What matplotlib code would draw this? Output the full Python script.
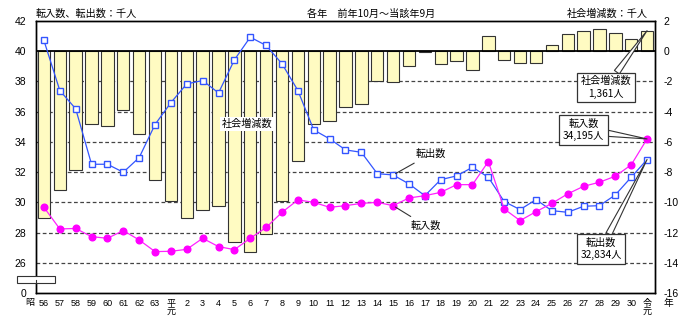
import matplotlib
matplotlib.use("Agg")
import matplotlib.pyplot as plt
from matplotlib.patches import Rectangle
from matplotlib.lines import Line2D

plt.rcParams['font.family'] = ['Liberation Sans', 'Noto Sans CJK JP', 'DejaVu Sans']

years = ["56", "57", "58", "59", "60", "61", "62", "63",
         "平\n元", "2", "3", "4", "5", "6", "7", "8", "9", "10",
         "11", "12", "13", "14", "15", "16", "17", "18", "19", "20",
         "21", "22", "23", "24", "25", "26", "27", "28", "29", "30",
         "令\n元"]

inflow = [29.67, 28.24, 28.27, 27.73, 27.62, 28.13, 27.51, 26.74,
          26.76, 26.89, 27.62, 27.07, 26.87,
          27.62, 28.34, 29.34, 30.16, 30.00,
          29.67, 29.78, 29.93, 30.00, 29.78,
          30.29, 30.44, 30.66, 31.17, 31.17,
          32.70, 29.56, 28.79, 29.38, 29.93,
          30.56, 31.06, 31.33, 31.73, 32.48,
          34.195]

outflow = [40.71, 37.40, 36.19, 32.52, 32.52, 31.99, 32.96, 35.15,
           36.60, 37.84, 38.06, 37.24, 39.43,
           40.93, 40.38, 39.17, 37.40, 34.79,
           34.20, 33.47, 33.31, 31.90, 31.81,
           31.22, 30.44, 31.50, 31.75, 32.32,
           31.66, 30.05, 29.52, 30.18, 29.45,
           29.34, 29.74, 29.78, 30.49, 31.66,
           32.834]

net = [-11.06, -9.18, -7.83, -4.81, -4.92, -3.90, -5.50, -8.50,
       -9.89, -11.06, -10.48, -10.24, -12.60,
       -13.31, -12.09, -9.93, -7.24, -4.81,
       -4.59, -3.71, -3.49, -1.95, -2.05,
       -0.95, -0.02, -0.84, -0.66, -1.21,
       1.04, -0.57, -0.77, -0.81, 0.38,
       1.15, 1.33, 1.48, 1.21, 0.82,
       1.361]

left_ticks = [24, 26, 28, 30, 32, 34, 36, 38, 40, 42]
left_labels = ["0", "26", "28", "30", "32", "34", "36", "38", "40", "42"]
right_ticks = [-16, -14, -12, -10, -8, -6, -4, -2, 0, 2]

W, H = 700, 322
fig = plt.figure(figsize=(W / 100, H / 100), dpi=100)
ax = fig.add_axes([36 / W, 29 / H, 619 / W, 272 / H])
ax2 = ax.twinx()

x = list(range(len(years)))

# bars (right axis)
ax.bar(x, net, width=0.78, color='#FFFBC2', edgecolor='#333333', linewidth=0.8, zorder=2)
for lv in [-14, -12, -10, -8, -6, -4, -2]:
    ax.axhline(lv, color='#444444', lw=0.9, ls=(0, (3, 2)), zorder=1)
ax.axhline(0, color='black', lw=1.3, zorder=3)
ax.set_ylim(-16, 2)
ax.set_xlim(-0.5, len(years) - 0.5)
ax.yaxis.tick_right()
ax.set_yticks(right_ticks)
ax.set_yticklabels([str(t) for t in right_ticks], fontsize=7.5)
ax.tick_params(axis='y', length=0, pad=6)
ax.set_xticks(x)
ax.set_xticklabels(years, fontsize=6.5, linespacing=1.0)
ax.tick_params(axis='x', length=0, pad=4)

# lines (left axis)
ax2.plot(x, outflow, color='#3355FF', lw=0.9, marker='s', markersize=4.6,
         markerfacecolor='white', markeredgecolor='#3355FF', markeredgewidth=1.0, zorder=4)
ax2.plot(x, inflow, color='#FF22FF', lw=0.9, marker='o', markersize=4.8,
         markerfacecolor='#FF00FF', markeredgecolor='#FF00FF', zorder=4)
ax2.set_ylim(24, 42)
ax2.yaxis.tick_left()
ax2.set_yticks(left_ticks)
ax2.set_yticklabels(left_labels, fontsize=7.5)
ax2.tick_params(axis='y', length=0, pad=7)

for a in (ax, ax2):
    for s in a.spines.values():
        s.set_color('black')
        s.set_linewidth(1.0)

jp = ['Noto Sans CJK JP', 'DejaVu Sans']

# header texts
fig.text(36 / W, 1 - 14 / H, "転入数、転出数：千人", fontsize=7.3, family=jp, va='center', ha='left')
fig.text(307 / W, 1 - 14 / H, "各年　前年10月～当該年9月", fontsize=7.3, family=jp, va='center', ha='left')
fig.text(648 / W, 1 - 14 / H, "社会増減数：千人", fontsize=7.3, family=jp, va='center', ha='right')
fig.text(30 / W, 1 - 302 / H, "昭", fontsize=6.5, family=jp, va='center', ha='center')
fig.text(668 / W, 1 - 303 / H, "年", fontsize=7, family=jp, va='center', ha='center')

# break mark on left axis
fig.patches.append(Rectangle((17 / W, 1 - 283 / H), 38 / W, 7 / H, transform=fig.transFigure,
                             facecolor='white', edgecolor='#333333', lw=0.8, zorder=10))
fig.lines.append(Line2D([36 / W, 36 / W], [1 - 283 / H, 1 - 279.5 / H], transform=fig.transFigure,
                        color='#333333', lw=0.8, zorder=11))

# labels
ax2.text(12.8, 35.2, "社会増減数", fontsize=7.3, family=jp, ha='center', va='center', zorder=6,
         bbox=dict(boxstyle='square,pad=0.2', fc='white', ec='none'))
ax2.annotate("転出数", xy=(22, outflow[22]), xytext=(23.4, 33.2), fontsize=7.3, family=jp,
             ha='left', va='center', zorder=6,
             arrowprops=dict(arrowstyle='-', color='#333333', lw=0.8, shrinkA=2, shrinkB=2))
ax2.annotate("転入数", xy=(22, inflow[22]), xytext=(23.1, 28.45), fontsize=7.3, family=jp,
             ha='left', va='center', zorder=6,
             arrowprops=dict(arrowstyle='-', color='#333333', lw=0.8, shrinkA=2, shrinkB=2))

n = len(years) - 1
box = dict(boxstyle='square,pad=0.35', fc='white', ec='#333333', lw=0.9)
ax2.annotate("社会増減数\n%s人" % format(round(net[n] * 1000), ','), xy=(n, 40 + net[n]),
             xytext=(35.4, 37.6), fontsize=7.3, family=jp, ha='center', va='center',
             linespacing=1.3, bbox=box, zorder=7,
             arrowprops=dict(arrowstyle='wedge,tail_width=0.6,shrink_factor=0.5', fc='white',
                             ec='#333333', lw=0.8, shrinkA=0, shrinkB=0))
ax2.annotate("転入数\n%s人" % format(round(inflow[n] * 1000), ','), xy=(n, inflow[n]),
             xytext=(34.0, 34.8), fontsize=7.3, family=jp, ha='center', va='center',
             linespacing=1.3, bbox=box, zorder=7,
             arrowprops=dict(arrowstyle='wedge,tail_width=0.6,shrink_factor=0.5', fc='white',
                             ec='#333333', lw=0.8, shrinkA=0, shrinkB=0))
ax2.annotate("転出数\n%s人" % format(round(outflow[n] * 1000), ','), xy=(n, outflow[n]),
             xytext=(35.1, 26.9), fontsize=7.3, family=jp, ha='center', va='center',
             linespacing=1.3, bbox=box, zorder=7,
             arrowprops=dict(arrowstyle='wedge,tail_width=0.6,shrink_factor=0.5', fc='white',
                             ec='#333333', lw=0.8, shrinkA=0, shrinkB=0))

fig.savefig("out.png", dpi=100)
